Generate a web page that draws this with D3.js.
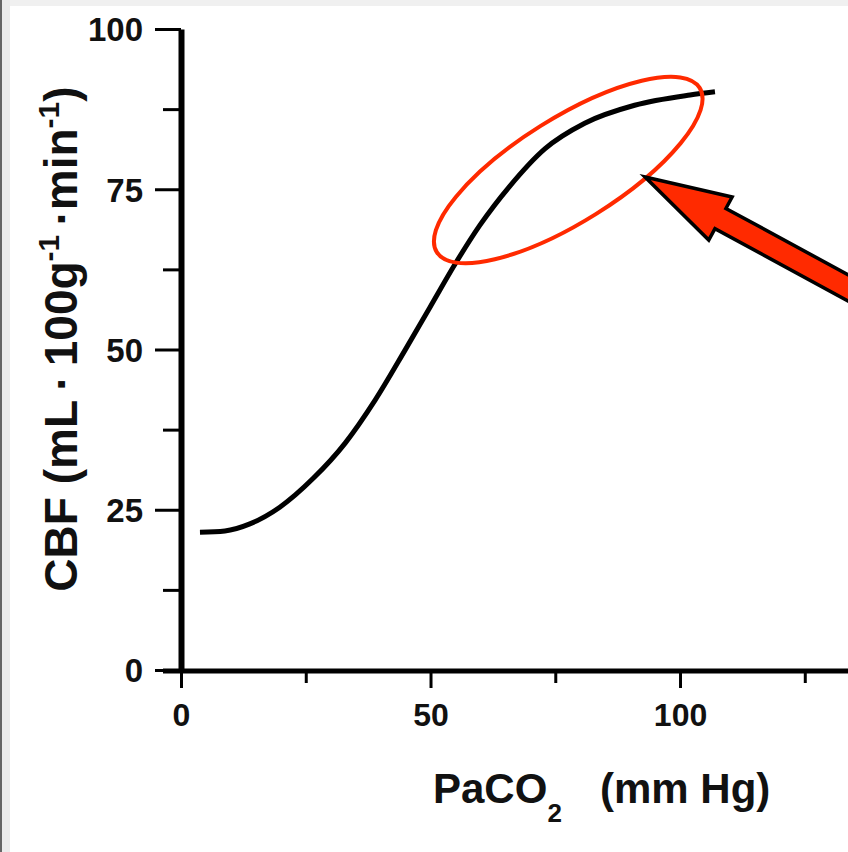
<!DOCTYPE html>
<html>
<head>
<meta charset="utf-8">
<script src="https://cdn.jsdelivr.net/npm/d3@7.9.0/dist/d3.min.js"></script>
<style>
  body { margin: 0; background: #fff; }
  svg { display: block; font-family: "Liberation Sans", Arial, sans-serif; font-weight: bold; }
</style>
</head>
<body>
<svg id="chart" width="848" height="852"></svg>
<script>
// PaCO2 (mm Hg) vs CBF
const paco2 = [3.8, 8.8, 13.8, 19.8, 26.5, 32.9, 38.9, 44.9, 49.9, 54.9, 59.9, 65.9, 72.9, 80.9, 90.9, 102, 107];
const cbf   = [21.5, 21.7, 22.8, 25.4, 29.9, 35.4, 42.1, 49.9, 56.6, 63.3, 69.4, 75.5, 81.3, 85.3, 88.1, 89.7, 90.2];

const xTicks = [0, 25, 50, 75, 100, 125];
const xLabels = [0, 50, 100];
const yTicks = [0, 12.5, 25, 37.5, 50, 62.5, 75, 87.5, 100];
const yLabels = [0, 25, 50, 75, 100];

// annotation anchors (data units)
const ringCenter = [77.6, 78];
const arrowTip = [93, 76.9];

const W = 848, H = 852;
const svg = d3.select('#chart');

// frame of the screenshot
svg.append('rect').attr('width', W).attr('height', H).attr('fill', '#fff');
svg.append('rect').attr('width', W).attr('height', 6).attr('fill', '#f0f0f0');
svg.append('rect').attr('width', 10).attr('height', H).attr('fill', '#ececec');
svg.append('rect').attr('width', 2).attr('height', H).attr('fill', '#666');

const x = d3.scaleLinear().domain([0, 134]).range([181, 849.7]);
const y = d3.scaleLinear().domain([0, 100]).range([670, 29]);

// y axis
const gy = svg.append('g')
    .attr('transform', `translate(${x(0)},0)`)
    .call(d3.axisLeft(y).tickValues(yTicks).tickSizeOuter(0)
        .tickFormat(d => yLabels.includes(d) ? d : ''));
gy.select('.domain').attr('stroke', '#000').attr('stroke-width', 6);
gy.selectAll('.tick line')
    .attr('stroke', '#000').attr('stroke-width', 3)
    .attr('x2', d => yLabels.includes(d) ? -26 : -18);
gy.selectAll('.tick text')
    .attr('x', -38).attr('dy', '0.36em')
    .attr('font-size', 33).attr('font-family', null).attr('fill', '#111');

// x axis
const gx = svg.append('g')
    .attr('transform', `translate(0,${y(0) + 1})`)
    .call(d3.axisBottom(x).tickValues(xTicks).tickSizeOuter(0)
        .tickFormat(d => xLabels.includes(d) ? d : ''));
gx.select('.domain').attr('stroke', '#000').attr('stroke-width', 5)
    .attr('d', `M${x(0) - 18},0H${W}`);
gx.selectAll('.tick line')
    .attr('stroke', '#000').attr('stroke-width', 3)
    .attr('y2', d => xLabels.includes(d) ? 17 : 12);
gx.selectAll('.tick text')
    .attr('y', 32).attr('dy', '0.71em')
    .attr('font-size', 32).attr('font-family', null).attr('fill', '#111');

// axis titles
const xt = svg.append('text')
    .attr('x', 433).attr('y', 803)
    .attr('font-size', 42).attr('fill', '#111');
xt.append('tspan').text('PaCO');
xt.append('tspan').attr('font-size', 26).attr('dy', 19).text('2');
xt.append('tspan').attr('x', 600).attr('dy', -19).text('(mm Hg)');

const yt = svg.append('text')
    .attr('transform', 'translate(77,339) rotate(-90)')
    .attr('text-anchor', 'middle')
    .attr('font-size', 46).attr('fill', '#111');
yt.append('tspan').text('CBF (mL\u2009\u00b7\u2009100g');
yt.append('tspan').attr('font-size', 30).attr('dy', -18).text('-1');
yt.append('tspan').attr('dy', 18).text('\u2009\u00b7min');
yt.append('tspan').attr('font-size', 30).attr('dy', -18).text('-1');
yt.append('tspan').attr('dy', 18).text(')');

// curve
const defs = svg.append('defs');
defs.append('filter').attr('id', 'soft')
    .append('feGaussianBlur').attr('stdDeviation', 0.7);

const pts = paco2.map((v, i) => [v, cbf[i]]);
const line = d3.line()
    .x(d => x(d[0])).y(d => y(d[1]))
    .curve(d3.curveMonotoneX);
svg.append('path')
    .datum(pts)
    .attr('d', line)
    .attr('fill', 'none')
    .attr('stroke', '#000')
    .attr('stroke-width', 5)
    .attr('filter', 'url(#soft)');

// red ring around the plateau
svg.append('ellipse')
    .attr('transform', `translate(${x(ringCenter[0])},${y(ringCenter[1])}) rotate(-32)`)
    .attr('rx', 155).attr('ry', 52)
    .attr('fill', 'none')
    .attr('stroke', '#ff2a00')
    .attr('stroke-width', 4);

// red arrow pointing at the ring
const arrowShape = [[0, 0], [86, -24], [86, -11], [320, -11], [320, 12], [86, 12], [86, 25]];
svg.append('path')
    .attr('transform', `translate(${x(arrowTip[0])},${y(arrowTip[1])}) rotate(28.5)`)
    .attr('d', d3.line()(arrowShape) + 'Z')
    .attr('fill', '#ff2a00')
    .attr('stroke', '#000')
    .attr('stroke-width', 3.5)
    .attr('stroke-linejoin', 'miter');
</script>
</body>
</html>
